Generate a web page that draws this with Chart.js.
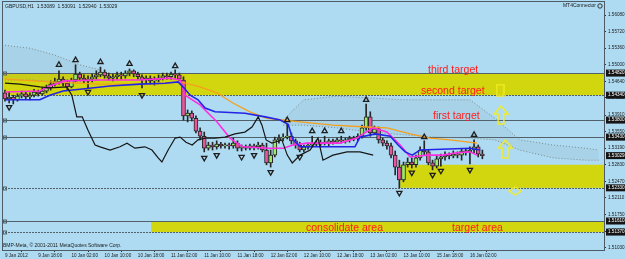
<!DOCTYPE html>
<html>
<head>
<meta charset="utf-8">
<script src="https://cdn.jsdelivr.net/npm/chart.js@4.4.1/dist/chart.umd.min.js"></script>
<style>
  html, body { margin: 0; padding: 0; background: #aedbf2; overflow: hidden; }
</style>
</head>
<body>
<canvas id="chart" width="625" height="259"></canvas>
<script>
// GBPUSD H1 candles, one entry per bar
const opens = [1.5439,1.5426,1.5430,1.5424,1.5432,1.5437,1.5430,1.5434,1.5441,1.5437,
  1.5443,1.5450,1.5458,1.5463,1.5469,1.5460,1.5452,1.5467,1.5480,1.5471,
  1.5467,1.5469,1.5474,1.5478,1.5484,1.5476,1.5471,1.5474,1.5478,1.5476,
  1.5482,1.5487,1.5480,1.5474,1.5467,1.5471,1.5465,1.5467,1.5471,1.5476,
  1.5474,1.5480,1.5478,1.5467,1.5389,1.5395,1.5384,1.5356,1.5345,1.5319,
  1.5326,1.5322,1.5328,1.5324,1.5326,1.5324,1.5330,1.5319,1.5322,1.5319,
  1.5324,1.5322,1.5326,1.5315,1.5287,1.5304,1.5337,1.5341,1.5343,1.5345,
  1.5335,1.5326,1.5315,1.5322,1.5326,1.5330,1.5328,1.5332,1.5330,1.5335,
  1.5332,1.5337,1.5335,1.5337,1.5341,1.5339,1.5345,1.5363,1.5387,1.5352,
  1.5361,1.5337,1.5330,1.5324,1.5304,1.5278,1.5250,1.5283,1.5289,1.5283,
  1.5298,1.5315,1.5311,1.5287,1.5280,1.5296,1.5300,1.5304,1.5302,1.5306,
  1.5304,1.5313,1.5311,1.5315,1.5322,1.5306];
const closes = [1.5426,1.5430,1.5424,1.5432,1.5437,1.5430,1.5434,1.5441,1.5437,1.5443,
  1.5450,1.5458,1.5463,1.5469,1.5460,1.5452,1.5467,1.5480,1.5471,1.5467,
  1.5469,1.5474,1.5478,1.5484,1.5476,1.5471,1.5474,1.5478,1.5476,1.5482,
  1.5487,1.5480,1.5474,1.5467,1.5471,1.5465,1.5467,1.5471,1.5476,1.5474,
  1.5480,1.5478,1.5469,1.5389,1.5395,1.5384,1.5356,1.5345,1.5319,1.5326,
  1.5322,1.5328,1.5324,1.5326,1.5324,1.5330,1.5319,1.5322,1.5319,1.5324,
  1.5322,1.5326,1.5315,1.5287,1.5304,1.5337,1.5341,1.5343,1.5345,1.5335,
  1.5326,1.5315,1.5322,1.5326,1.5330,1.5328,1.5332,1.5330,1.5335,1.5332,
  1.5337,1.5335,1.5337,1.5341,1.5339,1.5345,1.5363,1.5387,1.5352,1.5361,
  1.5337,1.5330,1.5324,1.5304,1.5278,1.5250,1.5283,1.5289,1.5283,1.5298,
  1.5315,1.5311,1.5287,1.5280,1.5296,1.5300,1.5304,1.5302,1.5306,1.5304,
  1.5313,1.5311,1.5315,1.5322,1.5306,1.5303];
const highs = [1.5445,1.5441,1.5434,1.5437,1.5443,1.5441,1.5439,1.5447,1.5445,1.5450,
  1.5456,1.5465,1.5471,1.5487,1.5474,1.5467,1.5471,1.5500,1.5484,1.5478,
  1.5476,1.5480,1.5487,1.5495,1.5489,1.5482,1.5480,1.5484,1.5484,1.5487,
  1.5491,1.5489,1.5484,1.5478,1.5476,1.5476,1.5474,1.5478,1.5482,1.5482,
  1.5484,1.5489,1.5482,1.5474,1.5402,1.5400,1.5389,1.5363,1.5354,1.5332,
  1.5332,1.5335,1.5332,1.5330,1.5330,1.5341,1.5335,1.5326,1.5326,1.5328,
  1.5328,1.5332,1.5330,1.5330,1.5315,1.5343,1.5348,1.5350,1.5371,1.5352,
  1.5339,1.5332,1.5326,1.5330,1.5345,1.5335,1.5337,1.5345,1.5339,1.5339,
  1.5341,1.5345,1.5341,1.5345,1.5345,1.5350,1.5369,1.5415,1.5398,1.5367,
  1.5365,1.5341,1.5335,1.5330,1.5313,1.5293,1.5289,1.5298,1.5298,1.5304,
  1.5322,1.5335,1.5315,1.5293,1.5304,1.5306,1.5311,1.5309,1.5313,1.5311,
  1.5317,1.5317,1.5322,1.5337,1.5326,1.5315];
const lows = [1.5421,1.5417,1.5415,1.5421,1.5428,1.5426,1.5424,1.5430,1.5432,1.5434,
  1.5439,1.5445,1.5454,1.5458,1.5454,1.5445,1.5450,1.5463,1.5467,1.5460,
  1.5450,1.5463,1.5469,1.5474,1.5471,1.5467,1.5465,1.5469,1.5469,1.5471,
  1.5476,1.5474,1.5469,1.5450,1.5460,1.5458,1.5456,1.5463,1.5467,1.5469,
  1.5469,1.5471,1.5465,1.5380,1.5376,1.5378,1.5352,1.5337,1.5311,1.5315,
  1.5315,1.5317,1.5319,1.5319,1.5317,1.5319,1.5313,1.5313,1.5315,1.5315,
  1.5315,1.5317,1.5311,1.5283,1.5278,1.5300,1.5330,1.5335,1.5339,1.5328,
  1.5319,1.5311,1.5311,1.5317,1.5322,1.5324,1.5324,1.5326,1.5324,1.5328,
  1.5330,1.5330,1.5330,1.5332,1.5335,1.5335,1.5341,1.5358,1.5345,1.5348,
  1.5330,1.5324,1.5317,1.5298,1.5261,1.5233,1.5246,1.5278,1.5276,1.5278,
  1.5293,1.5304,1.5283,1.5272,1.5276,1.5280,1.5293,1.5296,1.5298,1.5298,
  1.5293,1.5304,1.5285,1.5309,1.5300,1.5296];

// indicator lines: bar position / price pairs
const blackX = [0,3.6,5.3,8.4,10.8,14.9,16.1,17.3,18.6,20,21.7,22.9,25.3,27.7,29.4,31.3,33.7,35.4,36.9,37.8,39.3,41,42.2,43.6,45.1,46.5,48.2,50.6,53,55.4,57.8,59.5,61,61.9,62.9,64.3,66.7,68,69.2,71.1,73.5,75.4,76.6,79,82.4,85.5,88.7];
const blackY = [1.5460,1.5458,1.5456,1.5452,1.5450,1.5452,1.5434,1.5387,1.5387,1.5358,1.5326,1.5322,1.5315,1.5322,1.5330,1.5319,1.5322,1.5315,1.5298,1.5289,1.5315,1.5341,1.5343,1.5332,1.5326,1.5337,1.5341,1.5341,1.5343,1.5350,1.5354,1.5365,1.5387,1.5369,1.5337,1.5330,1.5337,1.5304,1.5287,1.5304,1.5315,1.5341,1.5293,1.5304,1.5311,1.5311,1.5304];
const blueX = [0,8.4,10.8,14,18.1,25.3,32.5,38.6,41.7,43.1,44.6,46.5,48.2,50.6,57.8,62.7,66.3,68.2,69.4,71.1,84.3,85.5,89.2,92.8,94.7,96.4,98.1,100,112,114.5];
const blueY = [1.5424,1.5424,1.5434,1.5443,1.5447,1.5454,1.5458,1.5460,1.5463,1.5450,1.5434,1.5424,1.5406,1.5398,1.5395,1.5387,1.5380,1.5371,1.5337,1.5322,1.5322,1.5343,1.5350,1.5345,1.5326,1.5311,1.5304,1.5315,1.5319,1.5315];
const magentaX = [0,8.4,10.8,14.5,22.9,32.5,39.8,42.2,43.4,47,49.4,51.1,54.2,55.9,57.3,63.1,67,69.4,72.8,80.7,84.8,86.3,88.7,92,95.2,97.6,101.7,105.5,108.9,112,113.7];
const magentaY = [1.5441,1.5443,1.5454,1.5465,1.5467,1.5467,1.5471,1.5467,1.5434,1.5413,1.5391,1.5376,1.5341,1.5330,1.5322,1.5319,1.5319,1.5326,1.5330,1.5330,1.5341,1.5350,1.5363,1.5354,1.5326,1.5300,1.5304,1.5304,1.5309,1.5311,1.5304];
const orangeX = [0,10.8,22.9,34.9,42.2,47,51.1,54.9,59,63.1,71.1,79,87.2,92,97.6,102.4,107.2,113.7];
const orangeY = [1.5469,1.5463,1.5458,1.5458,1.5463,1.5452,1.5439,1.5417,1.5398,1.5384,1.5376,1.5369,1.5365,1.5363,1.5350,1.5341,1.5337,1.5330];

// dotted cloud areas
const cloudLeftX = [-0.7,6,12,18,23];
const cloudLeftTop = [1.5543,1.5536,1.5521,1.5500,1.5489];
const cloudLeftBot = [1.5467,1.5467,1.5463,1.5463,1.5467];
const cloudRightX = [67,72,80,88,96,104,112,118,124,132,140,143];
const cloudRightTop = [1.5380,1.5424,1.5432,1.5428,1.5424,1.5424,1.5424,1.5384,1.5337,1.5326,1.5319,1.5315];
const cloudRightBot = [1.5369,1.5369,1.5363,1.5354,1.5348,1.5343,1.5341,1.5337,1.5315,1.5298,1.5293,1.5293];

// fractal markers
const upX = [13,17,23,30,41,68,74,77,81,87,101,113];
const upY = [1.5500,1.5510,1.5506,1.5502,1.5497,1.5380,1.5356,1.5356,1.5356,1.5424,1.5343,1.5348];
const downX = [1,20,33,48,51,57,60,64,71,95,98,103,105,112];
const downY = [1.5408,1.5441,1.5434,1.5298,1.5304,1.5300,1.5304,1.5267,1.5300,1.5222,1.5266,1.5261,1.5270,1.5272];

// hollow target arrows on the right
const arrowX = [119.3,119.5,120.5,122.9];
const arrowY = [1.5445,1.5391,1.5317,1.5226];

// zones and levels
const bandTop = [1.5482,1.5283,1.5161];
const bandBottom = [1.5434,1.5233,1.5137];
const bandFrom = [-0.72,95.2,35.2];
const solidLevels = [1.5482,1.5380,1.5343,1.5161];
const dashedLevels = [1.5434,1.5233,1.5137];
const markedPrices = [1.54820,1.54340,1.53800,1.53430,1.53029,1.52330,1.51610,1.51370];

const noteTexts = ['third target','second target','first target','consolidate area','target area'];
const noteX = [101.9,100.2,103.1,72.5,107.7];
const noteY = [1.5489,1.5442,1.5389,1.5146,1.5146];

const yTicks = [1.56080,1.55720,1.55360,1.55000,1.54640,1.54280,1.53910,1.53550,1.53190,1.52830,1.52470,1.52110,1.51750,1.51390,1.51030];
const dateBars = [0,8,16,24,32,40,48,56,64,72,80,88,96,104,112];
const dateLabels = ['9 Jan 2012','9 Jan 18:00','10 Jan 02:00','10 Jan 10:00','10 Jan 18:00','11 Jan 02:00','11 Jan 10:00','11 Jan 18:00','12 Jan 02:00','12 Jan 10:00','12 Jan 18:00','13 Jan 02:00','13 Jan 10:00','15 Jan 18:00','16 Jan 02:00'];

const FONT = '"Liberation Sans", Arial, sans-serif';

function pairs(xs, ys) {
  return xs.map((x, k) => ({ x: x, y: ys[k] }));
}

// small outline glyphs used as point styles for the target arrows
function glyph(w, h, draw) {
  const c = document.createElement('canvas');
  c.width = w; c.height = h;
  const g = c.getContext('2d');
  g.strokeStyle = '#f4ec22';
  g.lineWidth = 1.4;
  g.beginPath();
  draw(g, w, h);
  g.closePath();
  g.stroke();
  return c;
}
const arrowUp = glyph(16, 20, (g, w, h) => {
  g.moveTo(w / 2, 1); g.lineTo(w - 1, h * 0.45); g.lineTo(w * 0.68, h * 0.45);
  g.lineTo(w * 0.68, h - 1); g.lineTo(w * 0.32, h - 1); g.lineTo(w * 0.32, h * 0.45);
  g.lineTo(1, h * 0.45);
});
const stemBox = glyph(9, 13, (g, w, h) => {
  g.moveTo(1, 1); g.lineTo(w - 1, 1); g.lineTo(w - 1, h - 1); g.lineTo(1, h - 1);
});
const diamond = glyph(14, 10, (g, w, h) => {
  g.moveTo(w / 2, 1); g.lineTo(w - 1, h / 2); g.lineTo(w / 2, h - 1); g.lineTo(1, h / 2);
});

const overlay = {
  id: 'overlay',
  beforeDraw(chart) {
    const ctx = chart.ctx;
    ctx.save();
    ctx.fillStyle = '#aedbf2';
    ctx.fillRect(0, 0, chart.width, chart.height);
    ctx.restore();
  },
  beforeDatasetsDraw(chart) {
    const { ctx, chartArea: a, scales: { x, y } } = chart;
    ctx.save();
    ctx.beginPath();
    ctx.rect(a.left, a.top, a.right - a.left, a.bottom - a.top);
    ctx.clip();
    bandTop.forEach((top, k) => {
      const x0 = Math.max(a.left, x.getPixelForValue(bandFrom[k]));
      const y0 = y.getPixelForValue(top);
      const y1 = y.getPixelForValue(bandBottom[k]);
      ctx.fillStyle = '#d2d60e';
      ctx.fillRect(x0, y0, a.right - x0, y1 - y0);
    });
    const hline = (p, dash) => {
      const py = Math.round(y.getPixelForValue(p)) + 0.5;
      ctx.setLineDash(dash);
      ctx.strokeStyle = '#52606a';
      ctx.lineWidth = 1;
      ctx.beginPath();
      ctx.moveTo(a.left, py);
      ctx.lineTo(a.right, py);
      ctx.stroke();
      ctx.setLineDash([]);
      ctx.strokeRect(a.left + 1.5, py - 1.5, 3, 3);
    };
    solidLevels.forEach(p => hline(p, []));
    dashedLevels.forEach(p => hline(p, [2, 1]));
    ctx.restore();
  },
  afterDatasetsDraw(chart) {
    const { ctx, scales: { x, y } } = chart;
    ctx.save();
    ctx.font = '10.5px ' + FONT;
    ctx.fillStyle = '#ff1c1c';
    ctx.textAlign = 'left';
    ctx.textBaseline = 'middle';
    noteTexts.forEach((t, k) => {
      ctx.fillText(t, x.getPixelForValue(noteX[k]), y.getPixelForValue(noteY[k]));
    });
    ctx.restore();
  },
  afterDraw(chart) {
    const { ctx, chartArea: a, scales: { y } } = chart;
    ctx.save();
    ctx.strokeStyle = '#4d5b65';
    ctx.lineWidth = 1;
    ctx.strokeRect(a.left + 0.5, a.top + 0.5, a.right - a.left, a.bottom - a.top);

    // highlighted price boxes on the axis
    ctx.font = '4.6px ' + FONT;
    ctx.textBaseline = 'middle';
    ctx.textAlign = 'left';
    markedPrices.forEach(p => {
      const py = y.getPixelForValue(p);
      ctx.fillStyle = '#151515';
      ctx.fillRect(a.right + 2, py - 3.5, 24, 7);
      ctx.fillStyle = '#ffffff';
      ctx.fillText(p.toFixed(5), a.right + 4, py);
    });

    ctx.fillStyle = '#1b1b1b';
    ctx.font = '5px ' + FONT;
    ctx.fillText('GBPUSD,H1  1.53089  1.53091  1.52940  1.53029', a.left + 3, a.top + 6);
    ctx.fillText('BMP-Meta, \u00a9 2001-2011 MetaQuotes Software Corp.', a.left + 1, a.bottom - 4);
    ctx.textAlign = 'right';
    ctx.fillText('MT4Connector', a.right - 8, a.top + 5);
    ctx.beginPath();
    ctx.arc(a.right - 4, a.top + 5, 2.2, 0, Math.PI * 2);
    ctx.strokeStyle = '#333';
    ctx.stroke();
    ctx.restore();
  }
};

const bodyColors = opens.map((o, i) => closes[i] >= o ? '#9ee86a' : '#e8559b');

new Chart(document.getElementById('chart'), {
  type: 'bar',
  data: {
    datasets: [
      {
        type: 'line', data: pairs(cloudLeftX, cloudLeftTop), borderColor: '#7e8b8b', borderWidth: 1,
        borderDash: [1, 2], pointRadius: 0, fill: false, order: 8
      },
      {
        type: 'line', data: pairs(cloudLeftX, cloudLeftBot), borderColor: '#7e8b8b', borderWidth: 1,
        borderDash: [1, 2], pointRadius: 0, fill: '-1', backgroundColor: 'rgba(110,125,125,0.09)', order: 8
      },
      {
        type: 'line', data: pairs(cloudRightX, cloudRightTop), borderColor: '#7e8b8b', borderWidth: 1,
        borderDash: [1, 2], pointRadius: 0, fill: false, order: 8
      },
      {
        type: 'line', data: pairs(cloudRightX, cloudRightBot), borderColor: '#7e8b8b', borderWidth: 1,
        borderDash: [1, 2], pointRadius: 0, fill: '-1', backgroundColor: 'rgba(110,125,125,0.09)', order: 8
      },
      {
        data: opens.map((o, i) => ({ x: i, y: [lows[i], highs[i]] })),
        backgroundColor: '#262626', barThickness: 1, grouped: false, order: 7
      },
      {
        data: opens.map((o, i) => ({ x: i, y: [o, closes[i]] })),
        backgroundColor: bodyColors, borderColor: '#262626', borderWidth: 1, borderSkipped: false,
        barThickness: 4, minBarLength: 1, grouped: false, order: 6
      },
      {
        type: 'line', data: pairs(orangeX, orangeY), borderColor: '#f5a01c', borderWidth: 1.3,
        pointRadius: 0, tension: 0, order: 4
      },
      {
        type: 'line', data: pairs(blueX, blueY), borderColor: '#2424e6', borderWidth: 1.6,
        pointRadius: 0, tension: 0, order: 3
      },
      {
        type: 'line', data: pairs(magentaX, magentaY), borderColor: '#ff2ee0', borderWidth: 1.6,
        pointRadius: 0, tension: 0, order: 3
      },
      {
        type: 'line', data: pairs(blackX, blackY), borderColor: '#161616', borderWidth: 1.2,
        pointRadius: 0, tension: 0, order: 2
      },
      {
        type: 'scatter', data: pairs(upX, upY), pointStyle: 'triangle', pointRadius: 3,
        borderColor: '#1e1e1e', borderWidth: 1.3, backgroundColor: 'rgba(0,0,0,0)', order: 1
      },
      {
        type: 'scatter', data: pairs(downX, downY), pointStyle: 'triangle', rotation: 180, pointRadius: 3,
        borderColor: '#1e1e1e', borderWidth: 1.3, backgroundColor: 'rgba(0,0,0,0)', order: 1
      },
      {
        type: 'scatter', data: pairs(arrowX, arrowY),
        pointStyle: [stemBox, arrowUp, arrowUp, diamond], order: 1
      }
    ]
  },
  options: {
    responsive: false,
    devicePixelRatio: 1,
    animation: false,
    layout: { autoPadding: false, padding: { left: 2, top: 1, right: 0, bottom: 0 } },
    plugins: { legend: { display: false }, tooltip: { enabled: false } },
    scales: {
      x: {
        type: 'linear', min: -0.72, max: 144.3, offset: false,
        border: { color: '#4d5b65' },
        grid: { drawOnChartArea: false, tickLength: 2, color: '#333' },
        ticks: {
          align: 'start', maxRotation: 0, autoSkip: false, padding: 1, color: '#1b1b1b',
          font: { family: FONT, size: 4.6 },
          callback: (v, k) => dateLabels[k]
        },
        afterBuildTicks: s => { s.ticks = dateBars.map(v => ({ value: v })); },
        afterFit: s => { s.height = 9; s.paddingLeft = 0; s.paddingRight = 0; }
      },
      y: {
        type: 'linear', position: 'right', min: 1.50981, max: 1.56384,
        border: { color: '#4d5b65' },
        grid: { drawOnChartArea: false, tickLength: 2, color: '#333' },
        ticks: {
          padding: 2, color: '#1b1b1b', font: { family: FONT, size: 4.6 },
          callback: v => v.toFixed(5)
        },
        afterBuildTicks: s => { s.ticks = yTicks.map(v => ({ value: v })); },
        afterFit: s => { s.width = 21; s.paddingTop = 0; s.paddingBottom = 0; }
      }
    }
  },
  plugins: [overlay]
});
</script>
</body>
</html>
